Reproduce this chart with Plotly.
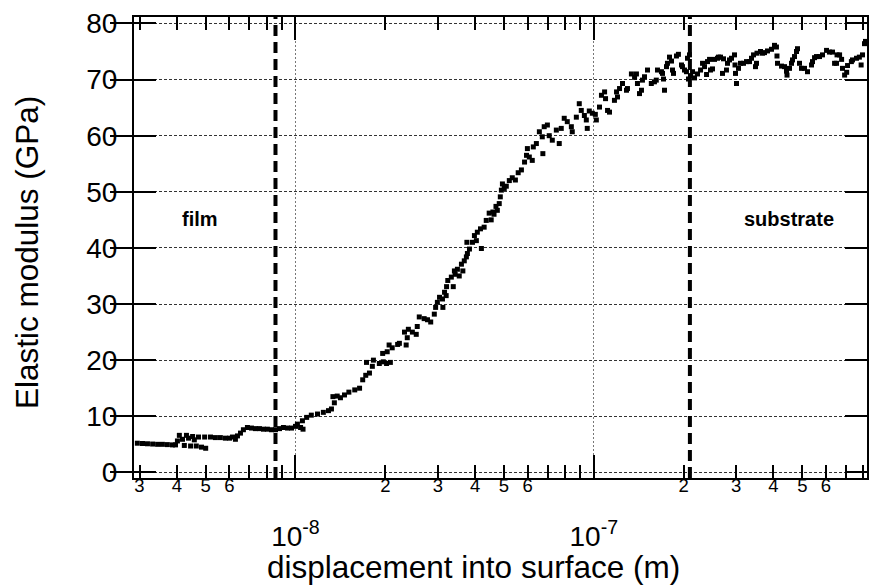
import math
import plotly.graph_objects as go

# ---------------- data ----------------
depth_nm = [
    2.95, 3.07, 3.19, 3.32, 3.45, 3.58, 3.72, 3.87, 3.96, 4.02,
    4.08, 4.18, 4.24, 4.31, 4.38, 4.45, 4.52, 4.58, 4.65, 4.73,
    4.84, 4.96, 5.00, 5.19, 5.39, 5.60, 5.82, 6.01, 6.15, 6.29,
    6.39, 6.54, 6.69, 6.90, 7.12, 7.34, 7.57, 7.81, 8.05, 8.31,
    8.57, 8.84, 9.11, 9.40, 9.70, 10.0, 10.15, 10.4, 10.55, 10.6,
    10.9, 11.3, 11.85, 12.4, 12.9, 13.2, 13.35, 13.5, 13.8, 14.15,
    14.6, 15.1, 15.8, 16.4, 16.8, 17.2, 17.3, 17.7, 18.1, 18.25,
    19.1, 19.6, 19.7, 20.2, 20.3, 20.6, 20.8, 21.1, 22.0, 22.3,
    23.2, 23.5, 23.7, 23.9, 24.65, 25.4, 25.6, 26.0, 27.0, 27.7,
    28.4, 29.2, 29.5, 29.9, 30.4, 31.1, 31.2, 31.6, 32.0, 32.1,
    32.4, 33.3, 33.8, 34.1, 34.3, 34.9, 35.4, 36.0, 36.4, 36.8,
    37.4, 37.55, 37.7, 38.3, 39.2, 39.8, 40.4, 40.7, 41.7, 42.0,
    42.9, 43.6, 44.6, 45.3, 45.9, 46.3, 47.0, 47.5, 48.2, 48.6,
    49.0, 49.4, 50.1, 50.9, 52.1, 53.3, 54.6, 55.8, 57.2, 58.6,
    59.5, 59.9, 60.8, 62.2, 62.7, 64.2, 65.7, 67.2, 67.5, 68.2,
    69.9, 70.9, 72.6, 74.9, 76.6, 77.8, 79.6, 81.5, 84.1, 84.7,
    87.4, 89.4, 90.8, 93.0, 94.4, 95.1, 96.6, 98.9, 101.2, 102.0,
    104.5, 106.1, 108.7, 109.5, 111.2, 112.9, 117.3, 119.2, 120.1, 122.0,
    124.8, 128.7, 129.7, 133.7, 137.0, 139.0, 140.1, 142.3, 144.5, 145.6,
    147.9, 151.4, 155.9, 159.7, 162.0, 163.5, 168.6, 170.0, 171.3, 172.6,
    175.3, 176.6, 179.4, 182.2, 183.6, 185.0, 189.3, 192.2, 196.8, 198.3,
    201.4, 204.5, 206.1, 207.7, 209.3, 211.0, 214.3, 217.6, 222.7, 228.0,
    231.5, 235.1, 238.8, 240.6, 244.4, 246.2, 250.0, 253.9, 259.9, 261.9,
    266.0, 270.1, 272.2, 278.5, 280.7, 285.1, 289.5, 296.3, 297.5, 298.6,
    300.9, 305.6, 310.4, 317.6, 325.1, 332.7, 337.9, 343.2, 348.5, 351.2,
    352.5, 362.2, 367.8, 373.5, 382.3, 394.3, 403.5, 409.6, 411.3, 413.0,
    426.0, 435.9, 442.7, 444.4, 453.0, 460.1, 463.7, 470.9, 478.2, 481.9,
    489.4, 496.9, 508.7, 520.6, 537.0, 541.1, 549.6, 558.1, 571.2, 584.5,
    602.9, 616.6, 631.4, 641.5, 651.3, 653.8, 666.8, 677.3, 682.1, 693.2,
    704.3, 709.0, 730.4, 736.7, 759.9, 776.9, 787.5, 795.8, 808.4, 814.6,
]
modulus_gpa = [
    5.2, 5.15, 5.1, 5.05, 5.0, 5.0, 4.95, 4.9, 4.9, 5.6,
    6.6, 5.9, 4.8, 6.6, 6.1, 4.7, 6.4, 5.8, 4.7, 6.3,
    4.5, 6.3, 4.3, 6.3, 6.2, 6.2, 6.1, 6.1, 6.3, 5.9,
    6.5, 7.0, 7.6, 8.0, 7.9, 7.8, 7.8, 7.7, 7.7, 7.6,
    7.6, 7.8, 8.0, 7.9, 7.9, 8.2, 8.6, 8.0, 9.2, 7.7,
    9.8, 10.2, 10.4, 10.7, 11.0, 11.3, 13.5, 12.4, 13.6, 13.3,
    13.8, 14.3, 14.7, 15.0, 16.5, 17.3, 19.6, 17.7, 18.9, 20.0,
    19.4, 21.2, 19.7, 19.4, 21.5, 22.7, 19.6, 22.2, 22.8, 23.0,
    25.0, 22.7, 24.0, 25.5, 25.0, 24.6, 26.0, 27.7, 27.4, 27.2,
    26.8, 28.2, 29.4, 30.3, 31.2, 30.9, 29.4, 32.1, 31.5, 33.1,
    34.2, 34.8, 33.1, 35.9, 35.3, 36.2, 35.0, 37.1, 35.9, 37.7,
    38.4, 41.0, 39.0, 39.8, 41.0, 42.2, 41.3, 42.8, 43.4, 39.9,
    43.7, 44.9, 46.2, 45.0, 46.4, 46.0, 47.4, 46.7, 47.9, 49.1,
    50.3, 51.4, 50.6, 51.0, 52.0, 52.5, 52.1, 53.4, 53.9, 55.3,
    56.5, 57.7, 56.2, 55.6, 58.0, 58.6, 60.7, 59.8, 56.8, 61.6,
    61.9, 60.0, 59.2, 61.0, 58.6, 61.3, 63.1, 62.5, 61.6, 60.7,
    63.3, 65.7, 64.5, 63.6, 62.8, 61.3, 64.4, 64.0, 63.8, 62.8,
    65.1, 67.2, 67.8, 66.6, 64.5, 64.2, 66.3, 67.8, 66.9, 68.4,
    69.3, 68.1, 68.4, 71.0, 70.4, 71.0, 69.3, 67.5, 68.1, 69.9,
    70.5, 71.7, 69.3, 69.6, 69.9, 71.7, 71.4, 71.1, 70.1, 68.1,
    72.3, 72.9, 74.0, 73.3, 71.7, 71.1, 74.2, 74.5, 72.6, 72.3,
    71.7, 71.4, 73.8, 70.1, 74.4, 70.7, 71.4, 70.3, 71.0, 71.7,
    72.9, 72.3, 70.9, 73.2, 73.6, 71.7, 71.9, 73.6, 73.8, 74.0,
    74.0, 71.1, 73.7, 71.7, 72.9, 73.5, 73.8, 74.4, 72.6, 71.1,
    69.3, 72.0, 72.9, 72.9, 73.2, 73.2, 73.8, 74.4, 72.3, 72.9,
    74.7, 75.0, 74.7, 74.8, 75.1, 75.4, 76.1, 75.8, 74.2, 72.9,
    72.4, 72.3, 71.5, 70.8, 72.0, 72.9, 73.5, 74.1, 75.0, 75.5,
    72.9, 72.0, 72.0, 71.4, 72.6, 73.2, 73.9, 74.1, 74.1, 74.4,
    75.2, 74.9, 74.9, 72.9, 72.9, 74.4, 74.4, 73.6, 72.0, 70.8,
    71.3, 72.5, 73.2, 73.5, 73.8, 74.0, 72.6, 74.4, 76.4, 76.8,
]
boundary_nm = [8.57, 210.0]          # film / substrate limits
region_labels = ["film", "substrate"]
region_label_x_m = [4.8e-9, 4.5e-7]
region_label_y = [45.2, 45.2]

x_range_m = [2.875e-9, 8.24e-7]
y_range = [-1.0, 81.15]
y_ticks = [0, 10, 20, 30, 40, 50, 60, 70, 80]
decade_ticks_m = [1e-8, 1e-7]
decade_tick_text = ["10<sup>-8</sup>", "10<sup>-7</sup>"]
labeled_ticks_m = [3e-9, 4e-9, 5e-9, 6e-9,
                   2e-8, 3e-8, 4e-8, 5e-8, 6e-8,
                   2e-7, 3e-7, 4e-7, 5e-7, 6e-7]
labeled_tick_text = ["3", "4", "5", "6",
                     "2", "3", "4", "5", "6",
                     "2", "3", "4", "5", "6"]
unlabeled_ticks_m = [7e-9, 8e-9, 9e-9, 7e-8, 8e-8, 9e-8, 7e-7, 8e-7]
x_title = "displacement into surface (m)"
y_title = "Elastic modulus (GPa)"

# ---------------- figure ----------------
FONT = "Liberation Sans, Arial, sans-serif"
depth_m = [d * 1e-9 for d in depth_nm]
log_range = [math.log10(v) for v in x_range_m]

fig = go.Figure()
fig.add_trace(go.Scatter(
    x=depth_m, y=modulus_gpa, mode="markers",
    marker=dict(symbol="square", size=5, color="black", line=dict(width=0)),
    showlegend=False, hoverinfo="skip"))

for b in boundary_nm:
    fig.add_trace(go.Scatter(
        x=[b * 1e-9, b * 1e-9], y=y_range, mode="lines", xaxis="x2",
        line=dict(color="black", width=4, dash="11px,6px"),
        showlegend=False, hoverinfo="skip"))

for txt, lx, ly in zip(region_labels, region_label_x_m, region_label_y):
    fig.add_annotation(x=math.log10(lx), y=ly, text="<b>" + txt + "</b>",
                       showarrow=False, font=dict(family=FONT, size=20, color="black"),
                       xanchor="center", yanchor="middle")

# axis titles as paper-anchored texts
fig.add_annotation(xref="paper", yref="paper", x=0.463, y=-0.194, text=x_title,
                   showarrow=False, xanchor="center", yanchor="middle",
                   font=dict(family=FONT, size=31.5, color="black"))
fig.add_annotation(xref="paper", yref="paper", x=-0.146, y=0.49, text=y_title,
                   textangle=-90, showarrow=False, xanchor="center", yanchor="middle",
                   font=dict(family=FONT, size=31.5, color="black"))

fig.update_layout(
    width=869, height=588,
    margin=dict(l=134, r=2, t=17, b=110, autoexpand=False),
    paper_bgcolor="white", plot_bgcolor="white",
    font=dict(family=FONT, color="black"),
    xaxis=dict(
        type="log", range=log_range, automargin=False,
        tickmode="array", tickvals=decade_ticks_m, ticktext=decade_tick_text,
        ticks="inside", ticklen=23, tickwidth=1.5, tickcolor="black",
        tickfont=dict(family=FONT, size=28, color="black"),
        ticklabelstandoff=32,
        showline=True, linecolor="black", linewidth=2, mirror="allticks",
        showgrid=True, gridcolor="#777777", gridwidth=1, griddash="2px,2px",
        zeroline=False,
    ),
    xaxis2=dict(
        type="log", range=log_range, overlaying="x", anchor="y", side="bottom",
        automargin=False,
        tickmode="array", tickvals=labeled_ticks_m, ticktext=labeled_tick_text,
        ticks="inside", ticklen=13, tickwidth=1.5, tickcolor="black",
        tickfont=dict(family=FONT, size=18.5, color="black"),
        ticklabelstandoff=-6,
        minor=dict(tickvals=unlabeled_ticks_m, ticks="inside", ticklen=13,
                   tickwidth=1.5, tickcolor="black", showgrid=False),
        showline=False, mirror="allticks", showgrid=False, zeroline=False,
    ),
    yaxis=dict(
        range=y_range, tickmode="array", tickvals=y_ticks, automargin=False,
        ticks="inside", ticklen=22, tickwidth=2, tickcolor="black",
        tickfont=dict(family=FONT, size=28, color="black"),
        ticklabelstandoff=9,
        showline=True, linecolor="black", linewidth=2, mirror="allticks",
        showgrid=True, gridcolor="#333333", gridwidth=1, griddash="3px,2px",
        zeroline=False,
    ),
)

fig.write_html("out.html", config={"displayModeBar": False},
               post_script="document.body.style.margin='0';document.body.style.overflow='hidden';")
